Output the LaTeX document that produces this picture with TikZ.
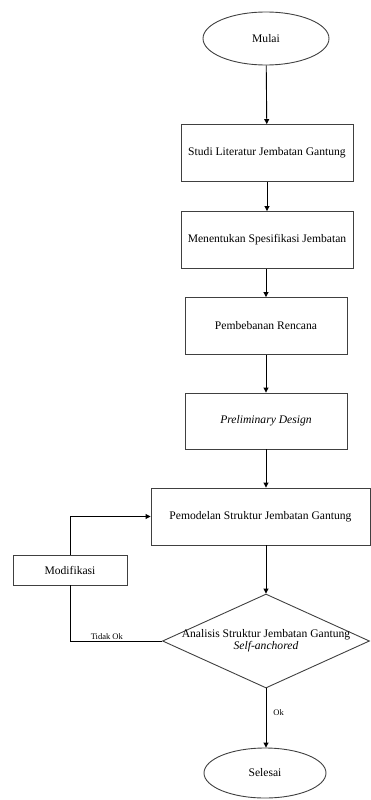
\documentclass[tikz,border=0pt]{standalone}
\usepackage{fontspec}
\setmainfont{Liberation Serif}
\usetikzlibrary{shapes.geometric,arrows.meta}
\begin{document}
\begin{tikzpicture}[x=1pt,y=-1pt,
  box/.style={draw=black!75,line width=0.9pt,minimum width=172pt,minimum height=57pt,inner sep=0pt,font=\fontsize{11.6}{13}\selectfont},
  term/.style={draw=black!75,line width=0.9pt,ellipse,minimum width=126pt,minimum height=53pt,inner sep=0pt,font=\fontsize{11.6}{13}\selectfont},
  arr/.style={-{Triangle[length=5pt,width=5pt]},line width=0.9pt},
  lbl/.style={font=\fontsize{8.5}{9}\selectfont,inner sep=1pt}]
\useasboundingbox (0,0) rectangle (371,800);
\node[term] (mulai) at (266,38.5) {Mulai};
\node[box] (studi) at (267,153) {Studi Literatur Jembatan Gantung};
\node[box] (spek) at (267,240) {Menentukan Spesifikasi Jembatan};
\node[box,minimum width=162pt] (beban) at (266,326) {Pembebanan Rencana};
\node[box,minimum width=162pt,minimum height=56pt] (pre) at (266,421) {\itshape Preliminary Design};
\node[box,minimum width=219pt] (model) at (260.5,516.5) {Pemodelan Struktur Jembatan Gantung};
\node[box,minimum width=114pt,minimum height=30pt] (modif) at (70,570) {Modifikasi};
\node[draw=black!75,line width=0.9pt,diamond,aspect=2.2,minimum width=207pt,minimum height=94pt,inner sep=0pt] (anal) at (266,641) {};
\node[align=center,inner sep=0pt,font=\fontsize{11.6}{13}\selectfont] (analtxt) at (anal.center) {Analisis Struktur Jembatan Gantung\\[-1pt]\itshape Self-anchored};
\node[term,minimum width=122pt,minimum height=50pt] (selesai) at (265,773) {Selesai};
\draw[arr] (mulai) -- (studi);
\draw[arr] (studi) -- (spek);
\draw[arr] (spek.south -| beban) -- (beban);
\draw[arr] (beban) -- (pre);
\draw[arr] (pre) -- (pre |- model.north);
\draw[arr] (model.south -| anal) -- (anal);
\draw[arr] (anal) -- node[lbl,right,pos=0.4,xshift=6pt]{Ok} (selesai.north -| anal);
\draw[line width=0.9pt] (anal.west) -- node[lbl,above,pos=0.6]{Tidak Ok} (anal.west -| modif) -- (modif.south);
\draw[arr] (modif.north) |- (model.west);
\end{tikzpicture}
\end{document}
